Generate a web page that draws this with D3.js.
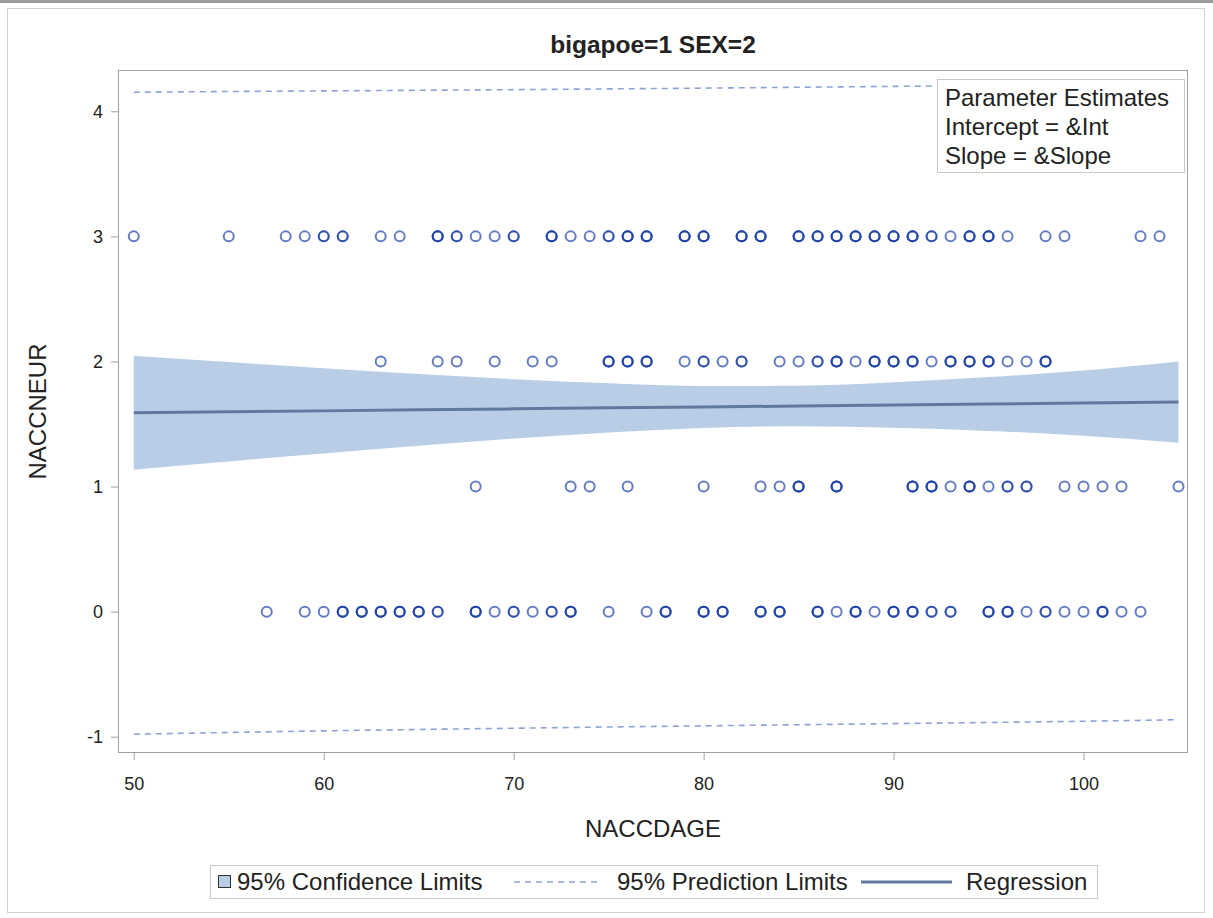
<!DOCTYPE html>
<html>
<head>
<meta charset="utf-8">
<script src="https://cdn.jsdelivr.net/npm/d3@7"></script>
<style>
  html, body { margin: 0; padding: 0; background: #fff; }
  svg text { font-family: "Liberation Sans", Arial, sans-serif; fill: #222; }
</style>
</head>
<body>
<svg id="chart" width="1213" height="918"></svg>
<script>
// ---- Data ----
// Observed ages (NACCDAGE) per NACCNEUR level; repeated ages = overlapping observations
const ages3 = [50,55,58,59,60,60,61,61,63,64,66,66,66,67,67,68,69,70,70,72,72,72,73,74,75,75,76,76,76,77,77,77,
  79,79,79,80,80,80,82,82,82,83,83,83,85,85,85,86,86,86,87,87,87,88,88,88,89,89,89,90,90,90,91,91,91,92,92,93,
  94,94,94,95,95,95,96,98,99,103,104];
const ages2 = [63,66,67,69,71,72,75,75,75,76,76,76,77,77,77,79,80,80,81,82,82,84,85,86,86,87,87,87,88,89,89,89,
  90,90,90,91,91,91,92,93,93,93,94,94,94,95,95,95,96,97,98,98,98];
const ages1 = [68,73,74,76,80,83,84,85,85,85,87,87,87,91,91,91,92,92,92,93,94,94,94,95,96,96,97,97,99,100,101,102,105];
const ages0 = [57,59,60,61,61,61,62,62,62,63,63,63,64,64,64,65,65,65,66,66,68,68,68,69,70,70,71,72,72,73,73,73,
  75,77,78,78,78,80,80,80,81,81,81,83,83,83,84,84,84,86,86,86,87,88,88,88,89,90,90,90,91,91,91,92,92,93,93,
  95,95,95,96,96,96,97,98,98,99,100,101,101,101,102,103];
const levels = [3, 2, 1, 0];

// Fit curves
const fitX      = [50, 55, 60, 65, 70, 75, 80, 85, 90, 95, 100, 105];
const regY      = [1.590, 1.598, 1.605, 1.613, 1.621, 1.629, 1.636, 1.644, 1.652, 1.660, 1.667, 1.675];
const clmLower  = [1.135, 1.201, 1.264, 1.326, 1.384, 1.433, 1.468, 1.482, 1.470, 1.445, 1.407, 1.350];
const clmUpper  = [2.045, 1.995, 1.946, 1.900, 1.858, 1.825, 1.804, 1.806, 1.834, 1.875, 1.927, 2.000];
const predLower = [-0.980, -0.966, -0.953, -0.942, -0.932, -0.922, -0.913, -0.904, -0.895, -0.886, -0.876, -0.864];
const predUpper = [4.152, 4.158, 4.163, 4.168, 4.173, 4.179, 4.185, 4.192, 4.199, 4.207, 4.217, 4.231];

const xTicks = [50, 60, 70, 80, 90, 100];
const yTicks = [-1, 0, 1, 2, 3, 4];

const titleText = "bigapoe=1 SEX=2";
const xLabel = "NACCDAGE";
const yLabel = "NACCNEUR";
const insetLines = ["Parameter Estimates", "Intercept = &Int", "Slope = &Slope"];
const legendLabels = ["95% Confidence Limits", "95% Prediction Limits", "Regression"];

// ---- Layout ----
const svg = d3.select("#chart");
const L = 118, R = 1188, T = 70, B = 753;
const x = d3.scaleLinear().domain([49.17, 105.5]).range([L, R]);
const y = d3.scaleLinear().domain([-1.13, 4.33]).range([B, T]);

const markerColor = "#1b40a3";
const bandColor = "#b9cde6";
const regColor = "#62799f";
const predColor = "#8ea2d6";
const labelSize = "24px";

// outer screenshot frame
svg.append("rect").attr("x", 0).attr("y", 0).attr("width", 1213).attr("height", 3).attr("fill", "#9a9a9a");
svg.append("rect").attr("x", 7.5).attr("y", 8.5).attr("width", 1197).attr("height", 904)
  .attr("fill", "none").attr("stroke", "#d0d0d0").attr("stroke-width", 1);

// title
svg.append("text").attr("x", (L + R) / 2).attr("y", 53).attr("text-anchor", "middle")
  .style("font-size", "24.5px").style("font-weight", "bold").text(titleText);

// clip
svg.append("clipPath").attr("id", "clip").append("rect")
  .attr("x", L).attr("y", T).attr("width", R - L).attr("height", B - T);
const g = svg.append("g").attr("clip-path", "url(#clip)");

const idx = d3.range(fitX.length);
// confidence band
g.append("path")
  .attr("d", d3.area().x(i => x(fitX[i])).y0(i => y(clmLower[i])).y1(i => y(clmUpper[i])).curve(d3.curveMonotoneX)(idx))
  .attr("fill", bandColor);

// markers
const pts = [];
const allAges = { 3: ages3, 2: ages2, 1: ages1, 0: ages0 };
levels.forEach(lv => allAges[lv].forEach(a => pts.push({ a, lv })));
g.selectAll("circle.pt").data(pts).join("circle").attr("class", "pt")
  .attr("cx", d => x(d.a)).attr("cy", d => y(d.lv)).attr("r", 5)
  .attr("fill", "none").attr("stroke", markerColor).attr("stroke-width", 2).attr("stroke-opacity", 0.68);

// regression line
g.append("path")
  .attr("d", d3.line().x(i => x(fitX[i])).y(i => y(regY[i]))(idx))
  .attr("fill", "none").attr("stroke", regColor).attr("stroke-width", 3);

// prediction limits
[predLower, predUpper].forEach(arr => {
  g.append("path")
    .attr("d", d3.line().x(i => x(fitX[i])).y(i => y(arr[i])).curve(d3.curveMonotoneX)(idx))
    .attr("fill", "none").attr("stroke", predColor).attr("stroke-width", 1.6).attr("stroke-dasharray", "6,5");
});

// frame
svg.append("rect").attr("x", L + 0.5).attr("y", T + 0.5).attr("width", R - L - 1).attr("height", B - T - 1)
  .attr("fill", "none").attr("stroke", "#a0a0a0");

// axes
const fmt = d => String(d);
const xAxis = svg.append("g").attr("transform", `translate(0,${B})`)
  .call(d3.axisBottom(x).tickValues(xTicks).tickSize(7).tickPadding(17).tickFormat(fmt));
const yAxis = svg.append("g").attr("transform", `translate(${L},0)`)
  .call(d3.axisLeft(y).tickValues(yTicks).tickSize(7).tickPadding(8).tickFormat(fmt));
[xAxis, yAxis].forEach(ax => {
  ax.select(".domain").remove();
  ax.selectAll(".tick line").attr("stroke", "#a0a0a0");
  ax.selectAll(".tick text").style("font-size", "18px").attr("fill", "#222")
    .style("font-family", "'Liberation Sans', Arial, sans-serif");
});

// axis labels
svg.append("text").attr("x", (L + R) / 2).attr("y", 837).attr("text-anchor", "middle")
  .style("font-size", labelSize).text(xLabel);
svg.append("text").attr("transform", `translate(46,${(T + B) / 2}) rotate(-90)`).attr("text-anchor", "middle")
  .style("font-size", labelSize).text(yLabel);

// inset box
const ib = svg.append("g");
ib.append("rect").attr("x", 937.5).attr("y", 79.5).attr("width", 247).attr("height", 93)
  .attr("fill", "#fff").attr("stroke", "#c8c8c8");
insetLines.forEach((t, i) => {
  ib.append("text").attr("x", 945).attr("y", 106 + i * 29).style("font-size", labelSize).text(t);
});

// legend
const lg = svg.append("g");
lg.append("rect").attr("x", 210.5).attr("y", 865.5).attr("width", 887).attr("height", 33)
  .attr("fill", "#fff").attr("stroke", "#c8c8c8");
lg.append("rect").attr("x", 218.5).attr("y", 875.5).attr("width", 12).attr("height", 12)
  .attr("fill", bandColor).attr("stroke", "#333");
lg.append("text").attr("x", 237).attr("y", 890).style("font-size", labelSize).text(legendLabels[0]);
lg.append("line").attr("x1", 514).attr("x2", 600).attr("y1", 882).attr("y2", 882)
  .attr("stroke", predColor).attr("stroke-width", 1.6).attr("stroke-dasharray", "6,5");
lg.append("text").attr("x", 617).attr("y", 890).style("font-size", labelSize).text(legendLabels[1]);
lg.append("line").attr("x1", 861).attr("x2", 952).attr("y1", 882).attr("y2", 882)
  .attr("stroke", regColor).attr("stroke-width", 3);
lg.append("text").attr("x", 966).attr("y", 890).style("font-size", labelSize).text(legendLabels[2]);
</script>
</body>
</html>
